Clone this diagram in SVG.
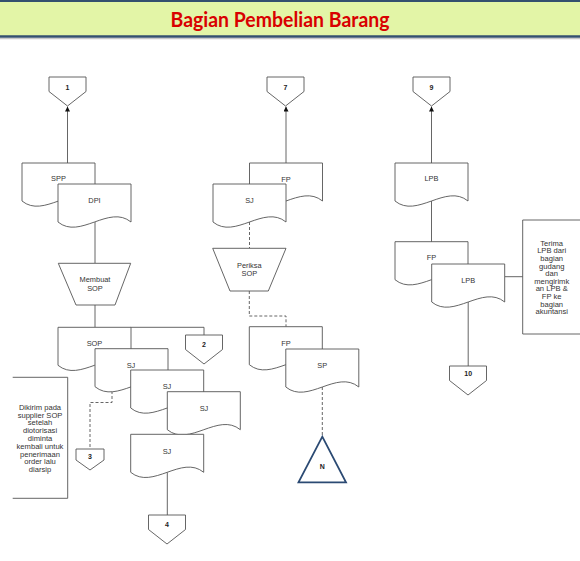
<svg xmlns="http://www.w3.org/2000/svg" width="580" height="561" viewBox="0 0 580 561">
<style>
.shape{fill:#fff;stroke:#555;stroke-width:0.9}
.ann{fill:none;stroke:#555;stroke-width:0.9}
.line{fill:none;stroke:#555;stroke-width:0.9}
.dash{fill:none;stroke:#555;stroke-width:0.9;stroke-dasharray:3,2}
.lbl{font-family:"Liberation Sans",Arial,sans-serif;font-size:7.4px;fill:#333;text-anchor:middle}
.num{font-family:"Liberation Sans",Arial,sans-serif;font-size:7px;font-weight:bold;fill:#222;text-anchor:middle}
.note{font-family:"Liberation Sans",Arial,sans-serif;font-size:7.6px;fill:#333;text-anchor:middle}
.title{font-family:Lato,"Open Sans",sans-serif;font-size:20px;font-weight:bold;fill:#d90000;text-anchor:middle}
</style>
<defs>
<path id="doc" d="M0,0 H73 V38 C51,20 22,56 0,38 Z"/>
<path id="off" d="M0,0 H37 V14.5 L18.5,29 L0,14.5 Z"/>
<marker id="arr" viewBox="0 0 6 6" refX="6" refY="3" markerWidth="5" markerHeight="5" markerUnits="userSpaceOnUse" orient="auto">
<path d="M0,0 L6,3 L0,6 Z" fill="#111"/>
</marker>
</defs>

<g id="header">
<rect x="0" y="0" width="580" height="37" fill="#e3f5a7"/>
<line x1="0" y1="1" x2="580" y2="1" stroke="#34506f" stroke-width="2"/>
<line x1="0" y1="36.5" x2="580" y2="36.5" stroke="#34506f" stroke-width="2.5"/>
<line x1="0" y1="38.6" x2="580" y2="38.6" stroke="#c8c8c8" stroke-width="1.2"/>
<text class="title" x="280" y="27" textLength="219" lengthAdjust="spacingAndGlyphs">Bagian Pembelian Barang</text>
</g>

<g id="connectors">
<path class="line" d="M67.5,163 V106.5" marker-end="url(#arr)"/>
<path class="line" d="M286,163 V106.5" marker-end="url(#arr)"/>
<path class="line" d="M431.5,163 V106.5" marker-end="url(#arr)"/>
<path class="line" d="M95,222 V263.3"/>
<path class="line" d="M95,305 V327.3"/>
<path class="line" d="M130.7,327.3 H204 V335"/>
<path class="dash" d="M112,391 V402.5 H90 V449"/>
<path class="line" d="M167.3,472.3 V515"/>
<path class="dash" d="M249.5,222 V248.3"/>
<path class="dash" d="M249.3,291 V316 H286 V326.7"/>
<path class="dash" d="M322.3,387 V436.7"/>
<path class="line" d="M431.5,201 V242"/>
<path class="line" d="M468.2,302 V366"/>
<path class="line" d="M505,276.7 H522.7"/>
</g>

<g id="off1"><use href="#off" class="shape" x="49" y="77"/><text class="num" x="67.5" y="90">1</text></g>
<g id="off7"><use href="#off" class="shape" x="267" y="77"/><text class="num" x="285.5" y="90">7</text></g>
<g id="off9"><use href="#off" class="shape" x="413" y="77"/><text class="num" x="431.5" y="90">9</text></g>
<g id="off2"><use href="#off" class="shape" x="185.5" y="335"/><text class="num" x="204" y="347">2</text></g>
<g id="off3"><path class="shape" d="M76,449 H104 V460 L90,470 L76,460 Z"/><text class="num" x="90" y="459">3</text></g>
<g id="off4"><use href="#off" class="shape" x="148.5" y="515"/><text class="num" x="167" y="527">4</text></g>
<g id="off10"><use href="#off" class="shape" x="449.5" y="366"/><text class="num" x="468.2" y="376">10</text></g>

<g id="doc-spp"><use href="#doc" class="shape" x="22" y="163"/><text class="lbl" x="58.5" y="181">SPP</text></g>
<g id="doc-dpi"><use href="#doc" class="shape" x="58" y="184"/><text class="lbl" x="94.5" y="203">DPI</text></g>

<g id="proc-membuat"><path class="shape" d="M58.3,263.3 H130.7 L115,305 H76 Z"/>
<text class="lbl" x="95" y="282.3" font-size="7">Membuat</text><text class="lbl" x="95" y="290.5" font-size="7">SOP</text></g>

<g id="doc-sop"><use href="#doc" class="shape" x="58" y="327.3"/><text class="lbl" x="94.5" y="346.3">SOP</text></g>
<g id="doc-sj1"><use href="#doc" class="shape" x="95" y="348.7"/><text class="lbl" x="131" y="367.5">SJ</text></g>
<g id="doc-sj2"><use href="#doc" class="shape" x="130.7" y="370"/><text class="lbl" x="167" y="389.3">SJ</text></g>
<g id="doc-sj3"><use href="#doc" class="shape" x="167.3" y="391.7"/><text class="lbl" x="204" y="410.7">SJ</text></g>
<g id="doc-sj4"><use href="#doc" class="shape" x="130.7" y="434.3"/><text class="lbl" x="167" y="453.5">SJ</text></g>

<g id="note-left">
<path class="ann" d="M12.7,377.3 H67.7 V498.3 H12.7"/>
<text class="note" x="40" y="409.7">Dikirim pada</text>
<text class="note" x="40" y="417.5">supplier SOP</text>
<text class="note" x="40" y="425.3">setelah</text>
<text class="note" x="40" y="433.1">diotorisasi</text>
<text class="note" x="40" y="440.9">diminta</text>
<text class="note" x="40" y="448.7">kembali untuk</text>
<text class="note" x="40" y="456.5">penerimaan</text>
<text class="note" x="40" y="464.3">order lalu</text>
<text class="note" x="40" y="472.1">diarsip</text>
</g>

<g id="doc-fp1"><use href="#doc" class="shape" x="249.5" y="163"/><text class="lbl" x="286" y="181.5">FP</text></g>
<g id="doc-sj-mid"><use href="#doc" class="shape" x="213" y="184"/><text class="lbl" x="249.5" y="203.3">SJ</text></g>

<g id="proc-periksa"><path class="shape" d="M212.7,248.3 H286 L268.3,291 H230 Z"/>
<text class="lbl" x="249.3" y="267.5" font-size="7">Periksa</text><text class="lbl" x="249.3" y="275.7" font-size="7">SOP</text></g>

<g id="doc-fp2"><use href="#doc" class="shape" x="249.3" y="326.7"/><text class="lbl" x="286" y="346">FP</text></g>
<g id="doc-sp"><use href="#doc" class="shape" x="285.8" y="349"/><text class="lbl" x="322.3" y="367.7">SP</text></g>

<g id="term-n"><path d="M322.3,436.7 L346,482.3 H298.5 Z" fill="#fff" stroke="#2b4a73" stroke-width="1.8"/>
<text class="num" x="322.3" y="469.2">N</text></g>

<g id="doc-lpb1"><use href="#doc" class="shape" x="395" y="163"/><text class="lbl" x="431.5" y="181">LPB</text></g>
<g id="doc-fp3"><use href="#doc" class="shape" x="395" y="241.7"/><text class="lbl" x="431.5" y="260.3">FP</text></g>
<g id="doc-lpb2"><use href="#doc" class="shape" x="431.7" y="264"/><text class="lbl" x="468.2" y="282.7">LPB</text></g>

<g id="note-right">
<path class="ann" d="M580,220 H522.7 V334 H580"/>
<text class="note" x="551.7" y="245.7">Terima</text>
<text class="note" x="551.7" y="253.3">LPB dari</text>
<text class="note" x="551.7" y="260.9">bagian</text>
<text class="note" x="551.7" y="268.5">gudang</text>
<text class="note" x="551.7" y="276.1">dan</text>
<text class="note" x="551.7" y="283.7">mengirimk</text>
<text class="note" x="551.7" y="291.3">an LPB &amp;</text>
<text class="note" x="551.7" y="298.9">FP ke</text>
<text class="note" x="551.7" y="306.5">bagian</text>
<text class="note" x="551.7" y="314.1">akuntansi</text>
</g>
</svg>
